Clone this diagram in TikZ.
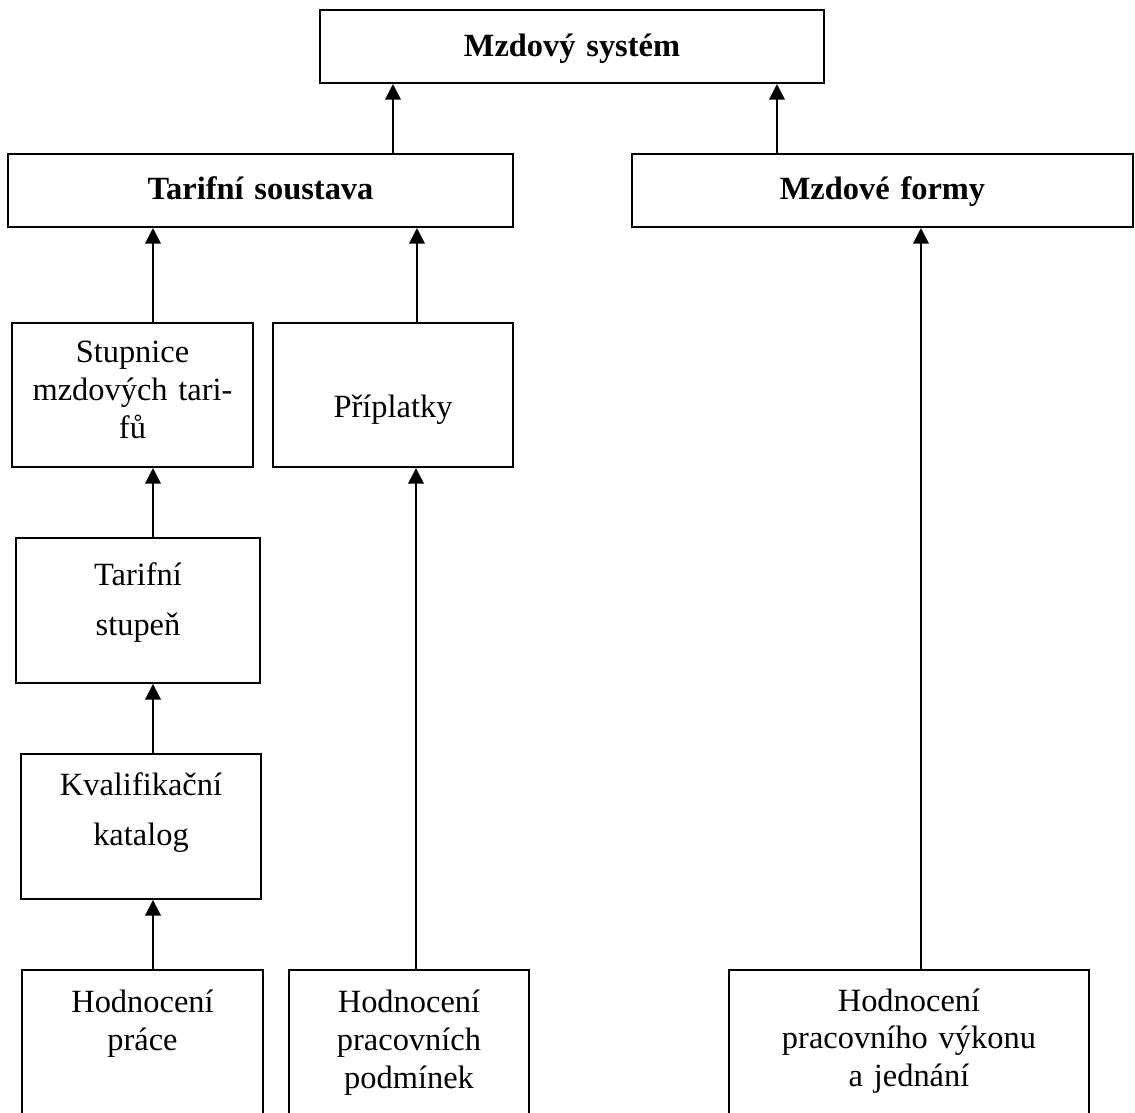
\documentclass[tikz,border=0pt]{standalone}
\usepackage{fontspec}
\setmainfont{Liberation Serif}
\usetikzlibrary{arrows.meta}
\definecolor{darkline}{HTML}{000000}
\tikzset{
  box/.style={rectangle, draw=darkline, line width=0.75pt, inner sep=0pt, align=center, font=\fontsize{12}{14}\selectfont},
  head/.style={box, font=\fontsize{12}{14}\selectfont\bfseries},
  wide/.style={box, font=\fontsize{12}{18.5}\selectfont},
  flow/.style={-{Triangle[length=5.8pt, width=5.8pt]}, line width=0.7pt, draw=darkline}
}

\begin{document}
\begin{tikzpicture}[x=0.37pt, y=-0.37pt]

\useasboundingbox (0,0) rectangle (1135,1113);
\clip (0,0) rectangle (1135,1113);

\node[head, text width=186.5pt, text height=17.2pt, text depth=9.8pt] (sys) at (572,46.5) {Mzdový systém};

\node[head, text width=186.9pt, text height=16.8pt, text depth=10.2pt] (tarif) at (260.5,190.5) {Tarifní soustava};
\node[head, text width=185.4pt, text height=16.8pt, text depth=10.2pt] (formy) at (882.5,190.5) {Mzdové formy};

\node[box, text width=89.2pt, text height=14.8pt, text depth=38.5pt] (stupnice) at (132.5,395) {Stupnice\\mzdových tari-\\fů};
\node[box, text width=88.8pt, text height=34.8pt, text depth=18.5pt] (priplatky) at (393,395) {Příplatky};

\node[wide, text width=90.3pt, text height=17.5pt, text depth=36.1pt] (stupen) at (138,610.5) {Tarifní\\stupeň};
\node[wide, text width=88.8pt, text height=15.5pt, text depth=38.1pt] (kval) at (141,826.5) {Kvalifikační\\katalog};

% spodni rada, dolni okraj je oriznuty
\node[box, text width=89.2pt, text height=15.8pt, text depth=43.4pt] (prace) at (142.5,1050) {Hodnocení\\práce};
\node[box, text width=88.8pt, text height=15.8pt, text depth=43.4pt] (podminky) at (409,1050) {Hodnocení\\pracovních\\podmínek};
\node[box, text width=133.2pt, text height=15.2pt, text depth=44pt] (vykon) at (909,1050) {Hodnocení\\pracovního výkonu\\a jednání};

\draw[flow] (tarif.north -| 393,0) -- (sys.south -| 393,0);
\draw[flow] (formy.north -| 777,0) -- (sys.south -| 777,0);
\draw[flow] (stupnice.north -| 153,0) -- (tarif.south -| 153,0);
\draw[flow] (priplatky.north -| 417,0) -- (tarif.south -| 417,0);
\draw[flow] (stupen.north -| 153,0) -- (stupnice.south -| 153,0);
\draw[flow] (kval.north -| 153,0) -- (stupen.south -| 153,0);
\draw[flow] (prace.north -| 153,0) -- (kval.south -| 153,0);
\draw[flow] (podminky.north -| 416,0) -- (priplatky.south -| 416,0);
\draw[flow] (vykon.north -| 921,0) -- (formy.south -| 921,0);

\end{tikzpicture}
\end{document}
